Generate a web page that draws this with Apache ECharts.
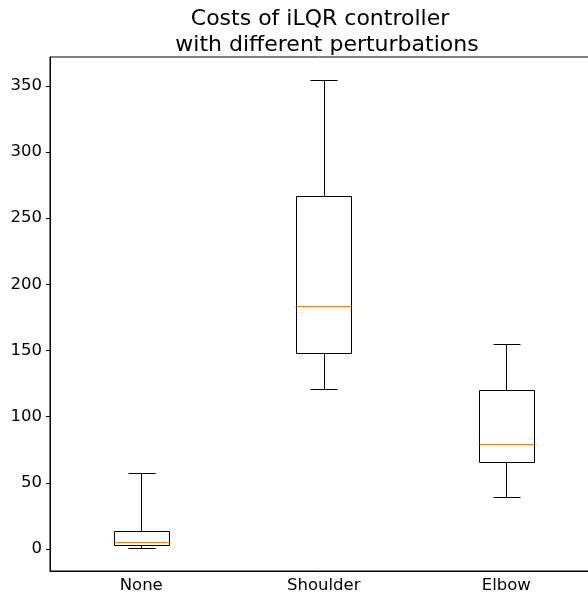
<!DOCTYPE html>
<html><head><meta charset="utf-8">
<script src="https://cdn.jsdelivr.net/npm/echarts@6/dist/echarts.min.js"></script>
<style>html,body{margin:0;padding:0;background:#fff}#c{width:588px;height:596px}</style>
</head><body><div id="c"></div>
<script>
const categories = ['None', 'Shoulder', 'Elbow'];
const whiskerLow = [1.0, 121.3, 39.0];
const q1 = [2.7, 148.3, 65.9];
const median = [5.0, 183.5, 79.3];
const q3 = [13.6, 266.8, 120.3];
const whiskerHigh = [57.6, 354.2, 154.8];
const yTicks = [0, 50, 100, 150, 200, 250, 300, 350];
const yMin = -16.6, yMax = 371.8;
const titleLines = ['Costs of iLQR controller ', ' with different perturbations'];

const data = categories.map((c, i) => [i, whiskerLow[i], q1[i], median[i], q3[i], whiskerHigh[i]]);
const FONT = 'DejaVu Sans';
const chart = echarts.init(document.getElementById('c'), null, {renderer: 'canvas'});
function px(v) { return Math.round(v) + 0.5; }
chart.setOption({
  animation: false,
  graphic: [{
    type: 'text', x: 323.5, y: 6,
    style: {text: titleLines.join('\n'), align: 'center', verticalAlign: 'top', fill: '#000', fontFamily: FONT, fontSize: 22, lineHeight: 26}
  }],
  grid: {left: 50, top: 57, width: 547.5, bottom: 25, outerBoundsMode: 'none', containLabel: false, show: true, borderColor: '#000', borderWidth: 1, backgroundColor: 'transparent'},
  xAxis: {
    type: 'category', data: categories, boundaryGap: true,
    axisLine: {onZero: false, lineStyle: {color: '#000', width: 1}},
    axisTick: {alignWithLabel: true, length: 4, lineStyle: {color: '#000'}},
    axisLabel: {color: '#000', fontFamily: FONT, fontSize: 16.5, margin: 6},
    splitLine: {show: false}
  },
  yAxis: {
    type: 'value', min: yMin, max: yMax,
    axisLine: {show: true, lineStyle: {color: '#000', width: 1}},
    axisTick: {show: true, length: 4, lineStyle: {color: '#000'}, customValues: yTicks},
    axisLabel: {color: '#000', fontFamily: FONT, fontSize: 16.5, margin: 8, customValues: yTicks},
    splitLine: {show: false}
  },
  series: [{
    type: 'custom',
    data: data,
    encode: {x: 0, y: [1, 2, 3, 4, 5]},
    renderItem: function (params, api) {
      const i = api.value(0);
      const band = api.size([1, 0])[0];
      const cx = api.coord([i, 0])[0];
      const bw = band * 0.3, cw = band * 0.15;
      const yLo = api.coord([i, api.value(1)])[1];
      const yQ1 = api.coord([i, api.value(2)])[1];
      const yMed = api.coord([i, api.value(3)])[1];
      const yQ3 = api.coord([i, api.value(4)])[1];
      const yHi = api.coord([i, api.value(5)])[1];
      const st = {stroke: '#000', lineWidth: 1, fill: null};
      const x0 = px(cx - bw / 2), x1 = px(cx + bw / 2), xc = px(cx);
      return {type: 'group', children: [
        {type: 'rect', shape: {x: x0, y: px(yQ3), width: x1 - x0, height: px(yQ1) - px(yQ3)}, style: {stroke: '#000', lineWidth: 1, fill: 'transparent'}},
        {type: 'line', shape: {x1: xc, y1: px(yQ3), x2: xc, y2: px(yHi)}, style: st},
        {type: 'line', shape: {x1: xc, y1: px(yQ1), x2: xc, y2: px(yLo)}, style: st},
        {type: 'line', shape: {x1: px(cx - cw / 2), y1: px(yHi), x2: px(cx + cw / 2), y2: px(yHi)}, style: st},
        {type: 'line', shape: {x1: px(cx - cw / 2), y1: px(yLo), x2: px(cx + cw / 2), y2: px(yLo)}, style: st},
        {type: 'line', shape: {x1: x0, y1: px(yMed), x2: x1, y2: px(yMed)}, style: {stroke: '#ff7f0e', lineWidth: 1}}
      ]};
    }
  }]
});
</script></body></html>
